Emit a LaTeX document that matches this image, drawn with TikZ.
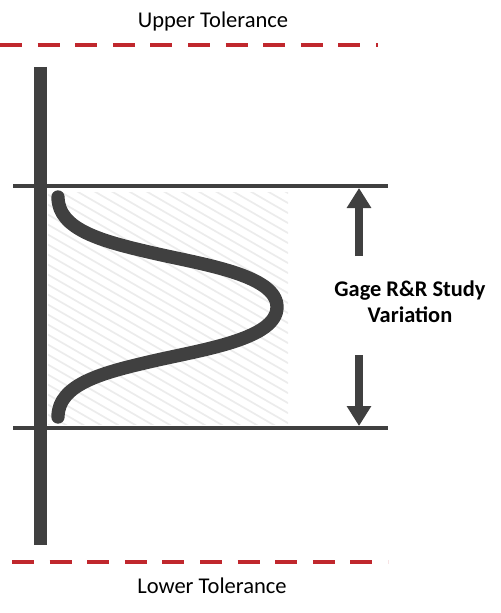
\documentclass[tikz,border=0pt]{standalone}
\usepackage{fontspec}
\setmainfont{Carlito}
\usetikzlibrary{arrows.meta}
\definecolor{barGray}{RGB}{64,64,64}
\definecolor{tolRed}{RGB}{192,39,45}
\definecolor{hatchGray}{RGB}{236,236,236}

\begin{document}
\begin{tikzpicture}[x=0.75pt,y=-0.75pt,
  tolline/.style={tolRed,line width=3pt,dash pattern=on 16.5pt off 11.7pt},
  limline/.style={barGray,line width=3.2pt},
  bigarrow/.style={barGray,line width=6pt,-{Triangle[width=17.5pt,length=15pt]}},
  tollabel/.style={font=\fontsize{16.9}{20}\selectfont,anchor=base}]
  \useasboundingbox (0,0) rectangle (500,613);
  % Tolerance limits
  \coordinate (utolL) at (0,45);
  \coordinate (utolR) at (378,45);
  \coordinate (ltolL) at (12,562);
  \coordinate (ltolR) at (388,562);
  \draw[tolline] (utolL) -- (utolR);
  \draw[tolline] (ltolL) -- (ltolR);
  \node[tollabel] (utext) at (213,28) {Upper Tolerance};
  \node[tollabel] (ltext) at (212,593) {Lower Tolerance};
  % Hatched study area
  \begin{scope}
    \clip (48,192) rectangle (288,424);
    \foreach \c in {-200,-190,...,440} {
      \draw[hatchGray,line width=1.3pt] (40,\c) -- (300,\c+150);
    }
  \end{scope}
  % Study limits
  \coordinate (topL) at (13,186);
  \coordinate (topR) at (388,186);
  \coordinate (botL) at (13,428);
  \coordinate (botR) at (388,428);
  \draw[limline] (topL) -- (topR);
  \draw[limline] (botL) -- (botR);
  % Axis bar
  \draw[barGray,line width=9.75pt] (40.5,67) -- (40.5,545);
  % Distribution curve
  \draw[barGray,line width=10pt,line cap=round]
    (58,197) .. controls (58,230) and (103,241.5) .. (153,253)
    .. controls (203,264.5) and (277,275) .. (277,307)
    .. controls (277,339) and (203,349.5) .. (153,361)
    .. controls (103,372.5) and (58,384) .. (58,417);
  % Variation arrows
  \coordinate (upTip) at (359,188);
  \coordinate (upTail) at (359,256);
  \coordinate (dnTip) at (359,426);
  \coordinate (dnTail) at (359,355);
  \draw[bigarrow] (upTail) -- (upTip);
  \draw[bigarrow] (dnTail) -- (dnTip);
  \node[font=\fontsize{16.8}{19.5}\selectfont\bfseries,align=center] (study) at (410,302) {Gage R\&R Study\\Variation};
\end{tikzpicture}
\end{document}
